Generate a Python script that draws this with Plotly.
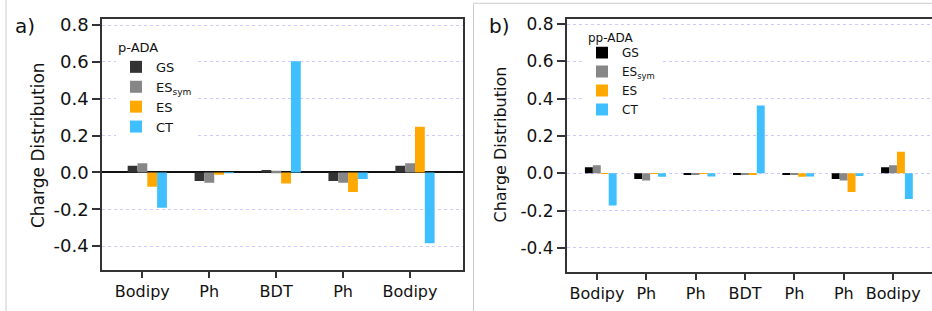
import plotly.graph_objects as go

# ---------------- data ----------------
cats_a = ["Bodipy", "Ph", "BDT", "Ph", "Bodipy"]
gs_a = [0.036, -0.047, 0.013, -0.047, 0.036]
essym_a = [0.049, -0.056, 0.009, -0.056, 0.049]
es_a = [-0.078, -0.013, -0.060, -0.107, 0.248]
ct_a = [-0.192, -0.004, 0.603, -0.036, -0.385]

cats_b = ["Bodipy", "Ph", "Ph", "BDT", "Ph", "Ph", "Bodipy"]
gs_b = [0.032, -0.030, -0.005, -0.004, -0.005, -0.030, 0.032]
essym_b = [0.043, -0.039, -0.005, -0.004, -0.005, -0.039, 0.043]
es_b = [-0.003, -0.003, -0.003, -0.005, -0.019, -0.100, 0.116]
ct_b = [-0.173, -0.018, -0.017, 0.364, -0.017, -0.015, -0.138]

series_names = ["GS", "ES<sub>sym</sub>", "ES", "CT"]
colors_a = ["#333333", "#878787", "#FFA800", "#3FBFFF"]
colors_b = ["#000000", "#878787", "#FFA800", "#3FBFFF"]

FONT = "DejaVu Sans"

fig = go.Figure()

def add_panel(cats, series, colors, xa, ya, legend, width):
    xs = list(range(len(cats)))
    for k, (name, vals, col) in enumerate(zip(series_names, series, colors)):
        fig.add_trace(go.Bar(
            x=xs, y=vals, name=name, marker=dict(color=col, line=dict(width=0)),
            width=width, offset=-2 * width + k * width,
            xaxis=xa, yaxis=ya, legend=legend,
        ))

add_panel(cats_a, [gs_a, essym_a, es_a, ct_a], colors_a, "x", "y", "legend", 0.1466)
add_panel(cats_b, [gs_b, essym_b, es_b, ct_b], colors_b, "x2", "y2", "legend2", 0.1607)

grid = "rgba(185,185,255,0.75)"
axcol = "#333333"

tick_a = [i - 0.075 for i in range(len(cats_a))]
tick_b = [i - 0.077 for i in range(len(cats_b))]
yvals = [-0.4, -0.2, 0.0, 0.2, 0.4, 0.6, 0.8]
ytext = ["-0.4", "-0.2", "0.0", "0.2", "0.4", "0.6", "0.8"]

fig.update_layout(
    width=932, height=311,
    margin=dict(l=0, r=0, t=0, b=0, autoexpand=False),
    paper_bgcolor="white", plot_bgcolor="white",
    barmode="overlay",
    showlegend=True,
    font=dict(family=FONT, color="#111111"),
    xaxis=dict(domain=[0.10944, 0.49646], range=[-0.677, 4.713],
               tickvals=tick_a, ticktext=cats_a, ticks="outside", ticklen=6,
               tickwidth=1.5, tickcolor=axcol, showline=True, linecolor=axcol,
               linewidth=1.5, mirror=True, showgrid=False, zeroline=False,
               automargin=False,
               tickfont=dict(size=16, family=FONT), anchor="y"),
    yaxis=dict(domain=[0.1318, 0.9379], range=[-0.530, 0.831],
               tickvals=yvals, ticktext=ytext,
               ticks="outside", ticklen=8, tickwidth=1.5, tickcolor=axcol,
               showline=True, linecolor=axcol, linewidth=1.5, mirror=True,
               showgrid=True, gridcolor=grid, griddash="dot", gridwidth=1,
               zeroline=True, zerolinecolor="#111111", zerolinewidth=1.5,
               automargin=False,
               tickfont=dict(size=18, family=FONT), anchor="x"),
    xaxis2=dict(domain=[0.60805, 1.0], range=[-0.69, 6.71],
                tickvals=tick_b, ticktext=cats_b, ticks="outside", ticklen=6,
                tickwidth=1.5, tickcolor=axcol, showline=True, linecolor=axcol,
                linewidth=1.5, mirror=True, showgrid=False, zeroline=False,
                automargin=False,
                tickfont=dict(size=16, family=FONT), anchor="y2"),
    yaxis2=dict(domain=[0.1254, 0.9389], range=[-0.529, 0.827],
                tickvals=yvals, ticktext=ytext,
                ticks="outside", ticklen=8, tickwidth=1.5, tickcolor=axcol,
                showline=True, linecolor=axcol, linewidth=1.5, mirror=False,
                showgrid=True, gridcolor=grid, griddash="dot", gridwidth=1,
                zeroline=False, automargin=False,
                tickfont=dict(size=17, family=FONT), anchor="x2"),
    legend=dict(x=116 / 932, y=1 - 35 / 311, xanchor="left", yanchor="top",
                bgcolor="white", borderwidth=0,
                title=dict(text="p-ADA", font=dict(size=13, family=FONT)),
                font=dict(size=13, family=FONT), tracegroupgap=0),
    legend2=dict(x=582 / 932, y=1 - 38 / 311, xanchor="left", yanchor="top",
                 bgcolor="white", borderwidth=0,
                 font=dict(size=12, family=FONT), tracegroupgap=0),
)

# legend title of panel b
fig.add_annotation(text="pp-ADA", x=586 / 932, y=1 - 38 / 311, xref="paper", yref="paper",
                   showarrow=False, font=dict(size=12, family=FONT, color="#111111"),
                   xanchor="left", yanchor="middle", bgcolor="white")

# panel labels and y titles
fig.add_annotation(text="a)", x=25 / 932, y=1 - 26 / 311, xref="paper", yref="paper",
                   showarrow=False, font=dict(size=20, family=FONT, color="#111111"),
                   xanchor="center", yanchor="middle")
fig.add_annotation(text="b)", x=499 / 932, y=1 - 26 / 311, xref="paper", yref="paper",
                   showarrow=False, font=dict(size=20, family=FONT, color="#111111"),
                   xanchor="center", yanchor="middle")
fig.add_annotation(text="Charge Distribution", x=38 / 932, y=1 - 145 / 311,
                   xref="paper", yref="paper", showarrow=False, textangle=-90,
                   font=dict(size=17, family=FONT, color="#111111"),
                   xanchor="center", yanchor="middle")
fig.add_annotation(text="Charge Distribution", x=499.5 / 932, y=1 - 145 / 311,
                   xref="paper", yref="paper", showarrow=False, textangle=-90,
                   font=dict(size=16, family=FONT, color="#111111"),
                   xanchor="center", yanchor="middle")

# outer picture frames
fig.add_shape(type="line", xref="paper", yref="paper", x0=6 / 932, x1=6 / 932,
              y0=0, y1=1, line=dict(color="#cccccc", width=1))
fig.add_shape(type="line", xref="paper", yref="paper", x0=473.5 / 932, x1=473.5 / 932,
              y0=0, y1=1 - 3.3 / 311, line=dict(color="#cccccc", width=1))
fig.add_shape(type="line", xref="paper", yref="paper", x0=473.5 / 932, x1=1,
              y0=1 - 3.3 / 311, y1=1 - 3.3 / 311, line=dict(color="#cccccc", width=1))

fig.write_html(
    "out.html",
    config={"displayModeBar": False},
    post_script="document.body.style.margin='0px';document.body.style.overflow='hidden';",
)
